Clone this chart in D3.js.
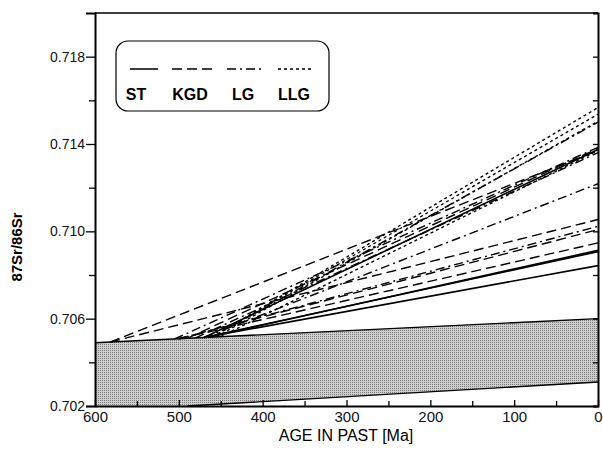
<!DOCTYPE html>
<html>
<head>
<meta charset="utf-8">
<script src="https://cdn.jsdelivr.net/npm/d3@7/dist/d3.min.js"></script>
<style>
  body { margin: 0; background: #fff; }
  svg { display: block; font-family: "Liberation Sans", Arial, sans-serif; }
</style>
</head>
<body>
<svg id="chart" width="603" height="450"></svg>
<script>
// --- data ---
const majorY = [0.702, 0.706, 0.710, 0.714, 0.718]
const minorY = [0.704, 0.708, 0.712, 0.716]
const majorX = [600, 500, 400, 300, 200, 100, 0]
const minorX = [550, 450, 350, 250, 150, 50]

// shaded band (upper and lower edge)
const bandTopAge = [600, 0]
const bandTopRatio = [0.7049, 0.7060]
const bandBotAge = [0, 490, 600]
const bandBotRatio = [0.7031, 0.7020, 0.7020]

// legend groups and their dash styles
const groups = ['ST', 'KGD', 'LG', 'LLG']
const dashes = { ST: null, KGD: '10,5', LG: '9,4,2,4', LLG: '3,3' }

// evolution lines: group, start age [Ma], start ratio, ratio today
const lineGroup = ['ST','ST','ST','ST',
                   'KGD','KGD','KGD','KGD','KGD',
                   'LG','LG','LG','LG','LG',
                   'LLG','LLG','LLG','LLG']
const lineStartAge = [470, 470, 465, 470,
                      582, 582, 500, 500, 490,
                      505, 470, 500, 480, 460,
                      460, 460, 455, 450]
const lineStartRatio = [0.70514, 0.70514, 0.70515, 0.70514,
                        0.70493, 0.70493, 0.70508, 0.70508, 0.7051,
                        0.70507, 0.70514, 0.70508, 0.70512, 0.70516,
                        0.70516, 0.70516, 0.70517, 0.70518]
const lineEndRatio = [0.70843, 0.70907, 0.70913, 0.71375,
                      0.7137, 0.71054, 0.71008, 0.70947, 0.7138,
                      0.71385, 0.71218, 0.71023, 0.7136, 0.7150,
                      0.71567, 0.71536, 0.71504, 0.7137]

const svg = d3.select('#chart')
const x = d3.scaleLinear().domain([600, 0]).range([95, 598])
const y = d3.scaleLinear().domain([0.702, 0.720]).range([406, 13])

// band with stipple pattern
const pat = svg.append('defs').append('pattern')
  .attr('id', 'stip').attr('width', 2).attr('height', 2)
  .attr('patternUnits', 'userSpaceOnUse')
pat.append('rect').attr('width', 2).attr('height', 2).attr('fill', '#cfcfcf')
pat.append('rect').attr('width', 1).attr('height', 1).attr('fill', '#7a7a7a')

const bandPts = bandTopAge.map((a, i) => [x(a), y(bandTopRatio[i])])
  .concat(bandBotAge.map((a, i) => [x(a), y(bandBotRatio[i])]))
svg.append('path')
  .attr('d', 'M' + bandPts.join('L') + 'Z')
  .attr('fill', 'url(#stip)')

const edge = d3.line().x(d => x(d[0])).y(d => y(d[1]))
svg.append('path')
  .attr('d', edge(bandTopAge.map((a, i) => [a, bandTopRatio[i]])))
  .attr('fill', 'none').attr('stroke', '#000').attr('stroke-width', 1.4)
svg.append('path')
  .attr('d', edge(bandBotAge.slice(0, 2).map((a, i) => [a, bandBotRatio[i]])))
  .attr('fill', 'none').attr('stroke', '#000').attr('stroke-width', 1.4)

// evolution lines
const lines = lineGroup.map((g, i) => ({
  g, pts: [[lineStartAge[i], lineStartRatio[i]], [0, lineEndRatio[i]]]
}))
svg.append('g').selectAll('path').data(lines).join('path')
  .attr('d', d => edge(d.pts))
  .attr('fill', 'none')
  .attr('stroke', '#000')
  .attr('stroke-width', d => d.g === 'ST' ? 1.6 : 1.4)
  .attr('stroke-dasharray', d => dashes[d.g])

// frame
svg.append('path')
  .attr('d', `M${x(600)},${y(0.720)}H${x(0)}`)
  .attr('stroke', '#000').attr('stroke-width', 1.3)

// axes
const axL = svg.append('g').attr('transform', `translate(${x(600)},0)`)
  .call(d3.axisLeft(y).tickValues(majorY).tickFormat(d3.format('.3f')).tickSize(9).tickPadding(1))
svg.append('g').attr('transform', `translate(${x(600)},0)`)
  .call(d3.axisLeft(y).tickValues(minorY).tickFormat('').tickSize(6))
  .select('.domain').remove()
svg.append('g').attr('transform', `translate(${x(0)},0)`)
  .call(d3.axisRight(y).tickValues(majorY.concat(minorY)).tickFormat('').tickSize(-5))
const axB = svg.append('g').attr('transform', `translate(0,${y(0.702)})`)
  .call(d3.axisBottom(x).tickValues(majorX).tickFormat(d3.format('d')).tickSizeInner(-6).tickSizeOuter(0).tickPadding(5))
svg.append('g').attr('transform', `translate(0,${y(0.702)})`)
  .call(d3.axisBottom(x).tickValues(minorX).tickFormat('').tickSizeInner(-5).tickSizeOuter(0))
  .select('.domain').remove()

svg.selectAll('.domain').attr('stroke-width', 2)
svg.selectAll('.tick line').attr('stroke-width', 1.3)
axL.selectAll('text').attr('font-size', 14).attr('fill', '#111')
axB.selectAll('text').attr('font-size', 15).attr('fill', '#111')

// axis titles
svg.append('text')
  .attr('x', 346).attr('y', 441)
  .attr('text-anchor', 'middle').attr('font-size', 16)
  .text('AGE IN PAST [Ma]')
svg.append('text')
  .attr('transform', 'translate(22,247) rotate(-90)')
  .attr('text-anchor', 'middle').attr('font-size', 15).attr('font-weight', 'bold')
  .text('87Sr/86Sr')

// legend
const leg = svg.append('g')
leg.append('rect')
  .attr('x', 116).attr('y', 41).attr('width', 213).attr('height', 70)
  .attr('rx', 12).attr('ry', 12)
  .attr('fill', '#fff').attr('stroke', '#000').attr('stroke-width', 1.2)
const legX0 = [130, 172, 227, 278]
const legX1 = [158, 215, 262, 312]
const legTx = [136, 190, 243, 294]
groups.forEach((g, i) => {
  leg.append('line')
    .attr('x1', legX0[i]).attr('x2', legX1[i]).attr('y1', 69).attr('y2', 69)
    .attr('stroke', '#000').attr('stroke-width', 1.5)
    .attr('stroke-dasharray', dashes[g])
  leg.append('text')
    .attr('x', legTx[i]).attr('y', 100)
    .attr('text-anchor', 'middle').attr('font-size', 16).attr('font-weight', 'bold')
    .text(g)
})
</script>
</body>
</html>
